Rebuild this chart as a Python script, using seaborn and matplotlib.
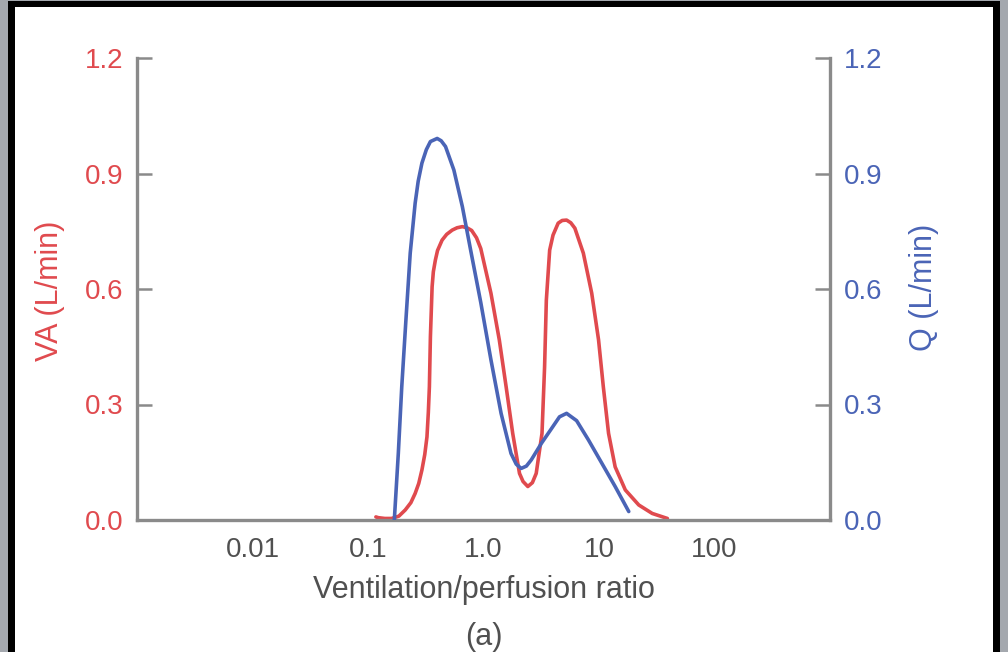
import matplotlib
matplotlib.use("Agg")
import matplotlib.pyplot as plt
from matplotlib.patches import Rectangle
from matplotlib.ticker import FixedLocator, NullLocator, FixedFormatter
import seaborn as sns

# ---- data ----
ratio_va = [0.117, 0.123, 0.140, 0.160, 0.185, 0.210, 0.235, 0.256, 0.275, 0.293,
            0.310, 0.324, 0.333, 0.340, 0.347, 0.359, 0.368, 0.383, 0.400, 0.438,
            0.480, 0.536, 0.590, 0.656, 0.720, 0.790, 0.870, 0.947, 1.16, 1.37,
            1.57, 1.79, 2.05, 2.20, 2.42, 2.65, 2.86, 3.21, 3.38, 3.50, 3.74, 4.00,
            4.43, 4.80, 5.24, 5.70, 6.18, 7.32, 8.65, 9.91, 10.9, 12.1, 13.8, 16.9,
            22.1, 28.9, 39.1]
va = [0.008, 0.006, 0.004, 0.004, 0.010, 0.026, 0.045, 0.069, 0.095, 0.130,
      0.170, 0.216, 0.280, 0.346, 0.476, 0.606, 0.645, 0.675, 0.700, 0.727,
      0.742, 0.753, 0.759, 0.762, 0.759, 0.752, 0.733, 0.705, 0.589, 0.468,
      0.346, 0.225, 0.121, 0.100, 0.087, 0.097, 0.121, 0.225, 0.398, 0.571,
      0.701, 0.740, 0.771, 0.778, 0.779, 0.772, 0.758, 0.693, 0.589, 0.468,
      0.346, 0.225, 0.138, 0.078, 0.039, 0.017, 0.004]

ratio_q = [0.169, 0.183, 0.196, 0.213, 0.232, 0.256, 0.272, 0.293, 0.320, 0.347,
           0.397, 0.430, 0.469, 0.554, 0.656, 0.775, 0.947, 1.16, 1.42, 1.73,
           1.92, 2.12, 2.35, 2.59, 3.17, 3.87, 4.55, 5.24, 6.40, 8.10, 10.6,
           13.8, 18.1]
q = [0.0, 0.173, 0.346, 0.520, 0.693, 0.823, 0.880, 0.927, 0.962, 0.983,
     0.991, 0.985, 0.970, 0.909, 0.814, 0.700, 0.565, 0.416, 0.277, 0.173,
     0.145, 0.134, 0.140, 0.156, 0.199, 0.237, 0.268, 0.277, 0.258, 0.208,
     0.147, 0.087, 0.022]

x_ticks = [0.01, 0.1, 1.0, 10, 100]
x_tick_labels = ["0.01", "0.1", "1.0", "10", "100"]
y_ticks = [0.0, 0.3, 0.6, 0.9, 1.2]
y_tick_labels = ["0.0", "0.3", "0.6", "0.9", "1.2"]

RED = "#e04a4e"
BLUE = "#4a64b6"
GRAY = "#8a8a8a"
TXT = "#505050"

sns.set_style("white")
plt.rcParams["font.family"] = ["Liberation Sans", "DejaVu Sans"]

W, H = 1008, 652
fig = plt.figure(figsize=(W / 100, H / 100), dpi=100, facecolor="#a4a8ae")
fig.patches.append(Rectangle((8 / W, 0), 992 / W, 651 / H, transform=fig.transFigure,
                             facecolor="black", edgecolor="none", zorder=-2))
fig.patches.append(Rectangle((15 / W, 0), 978 / W, 645 / H, transform=fig.transFigure,
                             facecolor="white", edgecolor="none", zorder=-1))

ax = fig.add_axes([137 / W, 132 / H, 693 / W, 462 / H])
ax.set_facecolor("none")
ax.set_xscale("log")
sns.lineplot(x=ratio_va, y=va, ax=ax, color=RED, linewidth=2.6,
             estimator=None, sort=False, solid_joinstyle="round")

ax2 = ax.twinx()
sns.lineplot(x=ratio_q, y=q, ax=ax2, color=BLUE, linewidth=2.6,
             estimator=None, sort=False, solid_joinstyle="round")

for a in (ax, ax2):
    a.set_xlim(1e-3, 1e3)
    a.set_ylim(0, 1.2)
    a.yaxis.set_major_locator(FixedLocator(y_ticks))
    a.yaxis.set_major_formatter(FixedFormatter(y_tick_labels))
    a.spines["top"].set_visible(False)
    for s in a.spines.values():
        s.set_color(GRAY)
        s.set_linewidth(2.4)

ax.xaxis.set_major_locator(FixedLocator(x_ticks))
ax.xaxis.set_major_formatter(FixedFormatter(x_tick_labels))
ax.xaxis.set_minor_locator(NullLocator())
ax.spines["right"].set_visible(False)
ax2.spines["left"].set_visible(False)
ax2.spines["bottom"].set_visible(False)

ax.tick_params(axis="x", direction="in", length=11, width=1.8, color=GRAY,
               labelsize=20, labelcolor=TXT, pad=12)
ax.tick_params(axis="y", direction="in", length=11, width=1.8, color=GRAY,
               labelsize=20, labelcolor=RED, pad=10)
ax2.tick_params(axis="y", direction="in", length=11, width=1.8, color=GRAY,
                labelsize=20, labelcolor=BLUE, pad=10)

ax.set_xlabel("Ventilation/perfusion ratio", fontsize=22, color=TXT)
ax.xaxis.set_label_coords(0.5, -0.1515)
ax.xaxis.label.set_va("center")

ax.set_ylabel("VA (L/min)", fontsize=22, color=RED)
ax.yaxis.set_label_coords(-0.1255, 0.495)
ax.yaxis.label.set_va("center")

ax2.set_ylabel("Q (L/min)", fontsize=22, color=BLUE, rotation=90)
ax2.yaxis.set_label_coords(1.135, 0.504)
ax2.yaxis.label.set_va("center")

fig.text(484 / W, 1 - 637 / H, "(a)", fontsize=22, color=TXT, ha="center", va="center")

fig.savefig("out.png", dpi=100, facecolor=fig.get_facecolor())
